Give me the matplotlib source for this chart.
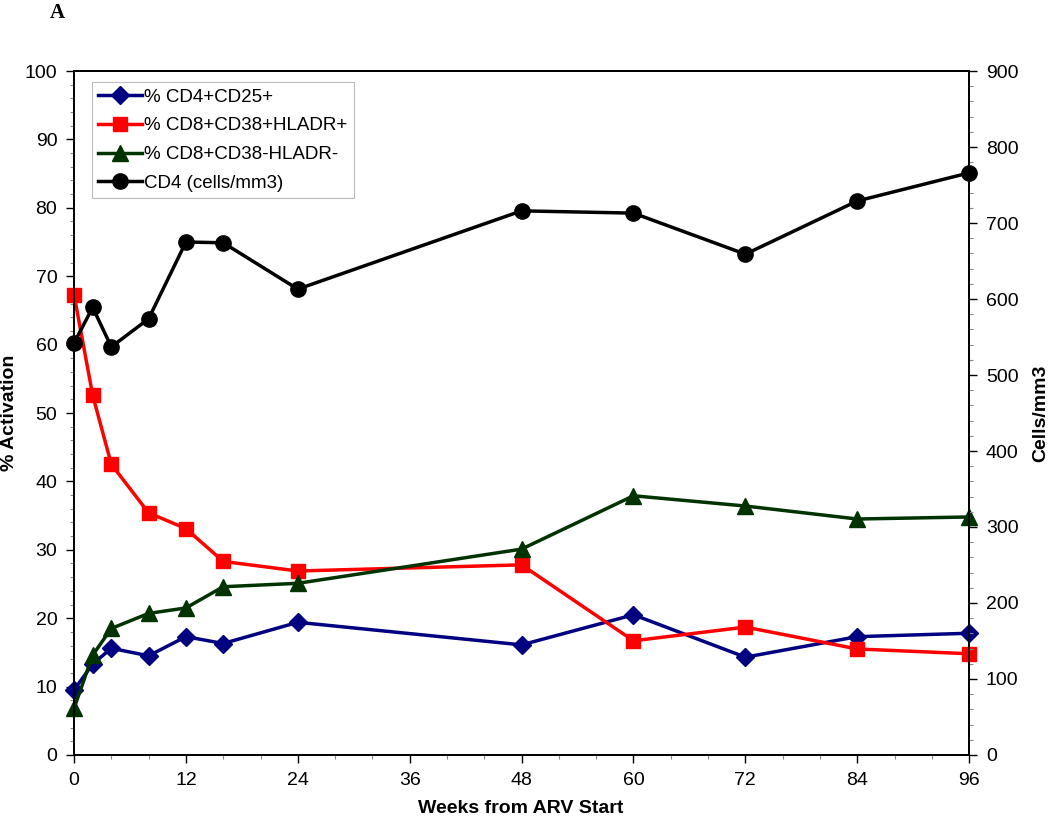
import matplotlib
matplotlib.use("Agg")
import matplotlib.pyplot as plt
from matplotlib.ticker import MultipleLocator

plt.rcParams['font.family'] = ['Liberation Sans', 'DejaVu Sans']

# data
weeks = [0, 2, 4, 8, 12, 16, 24, 48, 60, 72, 84, 96]
cd4_cd25 = [9.5, 13.3, 15.6, 14.5, 17.3, 16.3, 19.4, 16.1, 20.5, 14.3, 17.3, 17.8]
cd8_act = [67.3, 52.6, 42.5, 35.4, 33.1, 28.3, 26.9, 27.8, 16.7, 18.7, 15.5, 14.8]
cd8_rest = [6.8, 14.6, 18.5, 20.7, 21.5, 24.6, 25.1, 30.1, 37.9, 36.4, 34.5, 34.8]
cd4_count = [542, 589, 537, 574, 675, 674, 613, 716, 713, 659, 729, 766]

labels = ["% CD4+CD25+", "% CD8+CD38+HLADR+", "% CD8+CD38-HLADR-", "CD4 (cells/mm3)"]
colors = ["#000080", "#ff0000", "#003300", "#000000"]

fig = plt.figure(figsize=(10.5, 8.21), dpi=100)
ax1 = fig.add_axes([0.0705, 0.0804, 0.8525, 0.8331])
ax2 = ax1.twinx()

lw = 2.5
h1, = ax1.plot(weeks, cd4_cd25, '-D', color=colors[0], lw=lw, ms=9, label=labels[0], clip_on=False, zorder=3)
h2, = ax1.plot(weeks, cd8_act, '-s', color=colors[1], lw=lw, ms=10.5, label=labels[1], clip_on=False, zorder=3)
h3, = ax1.plot(weeks, cd8_rest, '-^', color=colors[2], lw=lw, ms=11, label=labels[2], clip_on=False, zorder=3)
h4, = ax2.plot(weeks, cd4_count, '-o', color=colors[3], lw=lw, ms=11, label=labels[3], clip_on=False, zorder=3)

ax1.set_xlim(0, 96)
ax1.set_ylim(0, 100)
ax2.set_ylim(0, 900)
ax1.xaxis.set_major_locator(MultipleLocator(12))
ax1.xaxis.set_minor_locator(MultipleLocator(4))
ax1.yaxis.set_major_locator(MultipleLocator(10))
ax1.yaxis.set_minor_locator(MultipleLocator(2))
ax2.yaxis.set_major_locator(MultipleLocator(100))
ax2.yaxis.set_minor_locator(MultipleLocator(20))

for ax in (ax1, ax2):
    for sp in ax.spines.values():
        sp.set_linewidth(1.3)
    ax.tick_params(which='major', length=6, width=1, labelsize=14, pad=6)
    ax.tick_params(which='minor', length=3, width=0.8, color='#888888')

# axis titles placed by hand so they stay inside the canvas
fig.text(10 / 1050, 1 - 413 / 821, "% Activation", fontsize=14, fontweight='bold',
         rotation=90, ha='center', va='center')
fig.text(1041 / 1050, 1 - 413 / 821, "Cells/mm3", fontsize=14, fontweight='bold',
         rotation=90, ha='center', va='center')
fig.text(521 / 1050, 1 - 808 / 821, "Weeks from ARV Start", fontsize=14, fontweight='bold',
         ha='center', va='center')

leg = ax2.legend(handles=[h1, h2, h3, h4], loc='upper left', bbox_to_anchor=(0.02, 0.984),
                 fontsize=13.5, frameon=True, fancybox=False, handlelength=2.3,
                 handletextpad=0.15, borderpad=0.35, labelspacing=0.62, borderaxespad=0)
leg.get_frame().set_edgecolor('#aaaaaa')
leg.get_frame().set_linewidth(0.8)

fig.text(0.047, 0.996, "A", fontsize=15, fontweight='bold', family='Liberation Serif',
         va='top', ha='left')

fig.savefig("out.png", dpi=100)
